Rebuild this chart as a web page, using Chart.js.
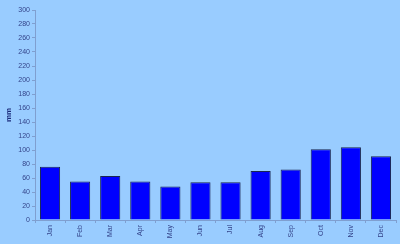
<!DOCTYPE html>
<html>
<head>
<meta charset="utf-8">
<script src="https://cdn.jsdelivr.net/npm/chart.js@4/dist/chart.umd.min.js"></script>
<style>
  html, body { margin: 0; padding: 0; background: #99ccff; }
  #wrap { width: 400px; height: 244px; }
</style>
</head>
<body>
<div id="wrap"><canvas id="chart"></canvas></div>
<script>
// Monthly rainfall (mm)
const months = ['Jan', 'Feb', 'Mar', 'Apr', 'May', 'Jun', 'Jul', 'Aug', 'Sep', 'Oct', 'Nov', 'Dec'];
const rainfall = [76, 55, 63, 55, 48, 54, 54, 70, 72, 101, 104, 91];
const yTicks = [0, 20, 40, 60, 80, 100, 120, 140, 160, 180, 200, 220, 240, 260, 280, 300];

const axisColor = '#7f9fd0';
const labelColor = '#34448a';
const font = { family: 'Liberation Sans, Arial, sans-serif', size: 7 };

// paint the light blue background behind everything
const background = {
    id: 'background',
    beforeDraw(chart) {
        const ctx = chart.ctx;
        ctx.save();
        ctx.fillStyle = '#99ccff';
        ctx.fillRect(0, 0, chart.width, chart.height);
        ctx.restore();
    },
};

new Chart(document.getElementById('chart'), {
    type: 'bar',
    data: {
        labels: months,
        datasets: [{
            data: rainfall,
            backgroundColor: '#0000ff',
            borderColor: '#1a2650',
            borderWidth: 1,
            categoryPercentage: 0.67,
            barPercentage: 1,
        }],
    },
    options: {
        animation: false,
        responsive: true,
        maintainAspectRatio: false,
        layout: { padding: { top: 10, right: 4, left: 0, bottom: 0 } },
        plugins: {
            legend: { display: false },
            tooltip: { enabled: false },
        },
        scales: {
            x: {
                grid: { display: true, drawOnChartArea: false, drawTicks: true, tickLength: 3, color: axisColor, offset: true },
                border: { display: true, color: axisColor, width: 1 },
                ticks: { color: labelColor, font, maxRotation: 90, minRotation: 90, padding: 2 },
                afterFit(scale) { scale.height = 24; },
            },
            y: {
                min: 0,
                max: 300,
                afterBuildTicks(scale) { scale.ticks = yTicks.map(v => ({ value: v })); },
                grid: { display: true, drawOnChartArea: false, drawTicks: true, tickLength: 3, color: axisColor },
                border: { display: true, color: axisColor, width: 1 },
                ticks: { color: labelColor, font, padding: 2 },
                title: {
                    display: true,
                    text: 'mm',
                    color: '#1a2a7a',
                    font: { family: 'Liberation Sans, Arial, sans-serif', size: 8, weight: 'bold' },
                    padding: { top: 4, bottom: 0 },
                },
                afterFit(scale) { scale.width = 35; },
            },
        },
    },
    plugins: [background],
});
</script>
</body>
</html>
